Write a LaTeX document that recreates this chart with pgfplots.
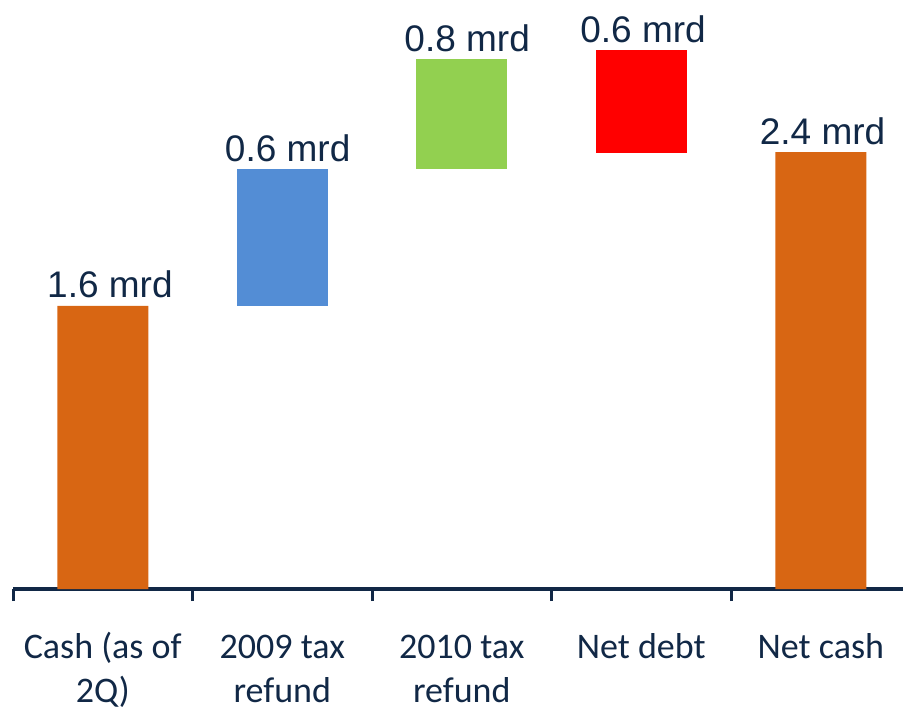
\documentclass[border=0pt]{standalone}
\usepackage{pgfplots}
\pgfplotsset{compat=1.18}
\usepackage{fontspec}
\setmainfont{Carlito}
\newfontfamily\arialf{Liberation Sans}
\definecolor{navy}{HTML}{112846}
\definecolor{barorange}{HTML}{D86613}
\definecolor{barblue}{HTML}{538DD5}
\definecolor{bargreen}{HTML}{92D050}
\definecolor{barred}{HTML}{FF0000}
\tikzset{vlab/.style={font=\arialf\fontsize{18.5}{20}\selectfont, text=navy, anchor=base, yshift=4pt}}
\begin{document}
\begin{tikzpicture}
\begin{axis}[
  scale only axis, width=445pt, height=294pt,
  xmin=-0.5, xmax=4.458, ymin=0, ymax=3.324,
  axis x line=bottom, axis y line=none,
  axis line style={-, line width=1.6pt, draw=navy},
  ybar stacked, bar width=45.5pt,
  xtick={0,1,2,3,4},
  xticklabels={{\strut Cash (as of\\2Q)},{\strut 2009 tax\\refund},{\strut 2010 tax\\refund},{\strut Net debt},{\strut Net cash}},
  major tick length=0pt,
  minor xtick={-0.5,0.5,1.5,2.5,3.5},
  minor tick length=6pt,
  tick align=outside,
  minor tick style={line width=1.5pt, draw=navy},
  xticklabel style={font=\fontsize{18}{22}\selectfont, text=navy, align=center, anchor=north, yshift=-16pt},
  clip=false,
]
\addplot[draw=none, fill=white, fill opacity=0] coordinates {(0,0) (1,1.6) (2,2.374) (3,2.466) (4,0)};
\addplot[draw=none, fill=barorange] coordinates {(0,1.6) (1,0) (2,0) (3,0) (4,2.470)};
\addplot[draw=none, fill=barblue] coordinates {(0,0) (1,0.774) (2,0) (3,0) (4,0)};
\addplot[draw=none, fill=bargreen] coordinates {(0,0) (1,0) (2,0.622) (3,0) (4,0)};
\addplot[draw=none, fill=barred] coordinates {(0,0) (1,0) (2,0) (3,0.581) (4,0)};
\node[vlab] at (axis cs:0.04,1.6) {1.6 mrd};
\node[vlab] at (axis cs:1.03,2.374) {0.6 mrd};
\node[vlab] at (axis cs:2.03,2.996) {0.8 mrd};
\node[vlab] at (axis cs:3.01,3.047) {0.6 mrd};
\node[vlab] at (axis cs:4.01,2.470) {2.4 mrd};
\end{axis}
\pgfresetboundingbox
\useasboundingbox (-6.5pt,-60pt) rectangle (445pt,294.5pt);
\end{tikzpicture}
\end{document}
